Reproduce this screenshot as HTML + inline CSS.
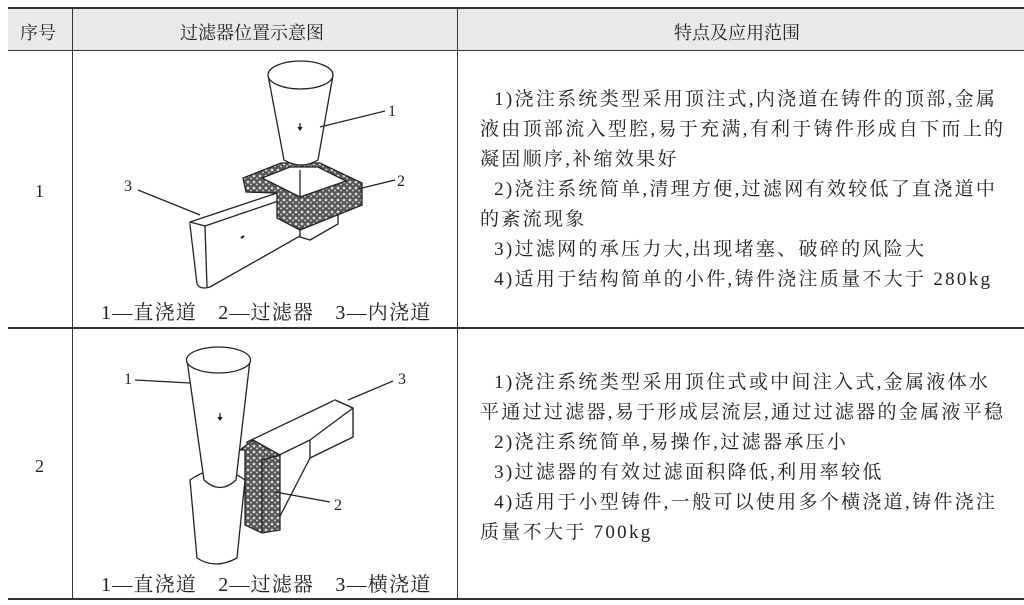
<!DOCTYPE html>
<html><head><meta charset="utf-8"><style>
body{margin:0;background:#fff;width:1024px;height:605px;overflow:hidden;font-family:"Liberation Serif","Noto Serif CJK SC",serif;color:#222}
.t{position:absolute;font-size:17px;white-space:nowrap}
.b{font-size:19px;letter-spacing:2.3px}
.c{font-size:20px;letter-spacing:1.2px}
.h{position:absolute;background:#e9e9e9}
.l{position:absolute;background:#333}
</style></head><body>
<div class="h" style="left:8px;top:8px;width:1016px;height:43px"></div>
<div class="l" style="left:8px;top:7px;width:1016px;height:2px"></div>
<div class="l" style="left:8px;top:50px;width:1016px;height:1px"></div>
<div class="l" style="left:8px;top:327px;width:1016px;height:1.5px"></div>
<div class="l" style="left:8px;top:598px;width:1016px;height:2px"></div>
<div class="l" style="left:72px;top:8px;width:1px;height:591px"></div>
<div class="l" style="left:457px;top:8px;width:1px;height:591px"></div>
<div class="t" style="left:20px;top:19px;font-size:18px">序号</div>
<div class="t" style="left:180px;top:19px;font-size:18px">过滤器位置示意图</div>
<div class="t" style="left:674px;top:19px;font-size:18px">特点及应用范围</div>
<div class="t" style="left:35px;top:181px;font-size:18px">1</div>
<div class="t" style="left:35px;top:456px;font-size:18px">2</div>
<div class="t c" style="left:101px;top:296px">1—直浇道　2—过滤器　3—内浇道</div>
<div class="t c" style="left:101px;top:568px">1—直浇道　2—过滤器　3—横浇道</div>
<div class="t b" style="left:480px;top:85px;line-height:30px">
&nbsp;&nbsp;1)浇注系统类型采用顶注式,内浇道在铸件的顶部,金属<br>液由顶部流入型腔,易于充满,有利于铸件形成自下而上的<br>凝固顺序,补缩效果好<br>&nbsp;&nbsp;2)浇注系统简单,清理方便,过滤网有效较低了直浇道中<br>的紊流现象<br>&nbsp;&nbsp;3)过滤网的承压力大,出现堵塞、破碎的风险大<br>&nbsp;&nbsp;4)适用于结构简单的小件,铸件浇注质量不大于 280kg</div>
<div class="t b" style="left:480px;top:368px;line-height:30px">
&nbsp;&nbsp;1)浇注系统类型采用顶住式或中间注入式,金属液体水<br>平通过过滤器,易于形成层流层,通过过滤器的金属液平稳<br>&nbsp;&nbsp;2)浇注系统简单,易操作,过滤器承压小<br>&nbsp;&nbsp;3)过滤器的有效过滤面积降低,利用率较低<br>&nbsp;&nbsp;4)适用于小型铸件,一般可以使用多个横浇道,铸件浇注<br>质量不大于 700kg</div>
<svg width="1024" height="605" style="position:absolute;left:0;top:0" fill="#fff" stroke="#222" stroke-width="1.3">
<defs><pattern id="p" width="6" height="6" patternUnits="userSpaceOnUse"><rect width="6" height="6" fill="#555" stroke="none"/><circle cx="2" cy="2" r="1.4" fill="#ddd" stroke="none"/><circle cx="5" cy="4.5" r="1" fill="#ccc" stroke="none"/></pattern></defs>
<!-- row1 -->
<path d="M190 222 L277 193 L300 205 L300 236 L210 287 Q200 290 197 284 L190 225 Z"/>
<path d="M190 222 L205 226 L207 287"/>
<path d="M205 226 L290 197"/>
<polygon points="300,237 300,218 338,208 338,224 310,240"/>
<polygon points="243,178 281,163 320,163 362,183 362,205 300,230 277,218 277,193 246,192" fill="url(#p)"/>
<polygon points="262,178 290,167 318,167 346,181 300,197" fill="#fff"/>
<path d="M300 197 V170"/>
<path d="M268 75 L284 160 Q301 170 318 160 L333 75" />
<ellipse cx="300.5" cy="75" rx="32.5" ry="14"/>
<path d="M300 123 v6" /><path d="M298 127 l2 3 l2 -3" fill="#222"/>
<path d="M320 127 L385 111" fill="none"/><text x="388" y="116" fill="#222" stroke="none" font-size="16">1</text>
<path d="M358 189 L395 180" fill="none"/><text x="397" y="186" fill="#222" stroke="none" font-size="16">2</text>
<path d="M200 215 L138 190" fill="none"/><text x="124" y="191" fill="#222" stroke="none" font-size="16">3</text>
<path d="M244 236 l-3 2" stroke-width="2"/>
<!-- row2 -->
<path d="M247 442 L335 400 L353 408 L353 437 L310 458 L278 520 L260 525 Z"/>
<path d="M335 400 L353 408 L353 437 L310 458 L310 440 L273 458"/>
<path d="M310 440 L353 408" fill="none"/>
<polygon points="240,450 253,440 280,455 280,530 262,533 245,525 245,450" fill="url(#p)"/>
<path d="M262 533 L262 460 L280 455" fill="none"/>
<path d="M190 480 Q218 460 245 480 L237 558 Q215 570 197 558 Z"/>
<path d="M187 360 L204 480 Q220 495 236 480 L250 360"/>
<ellipse cx="218.5" cy="360" rx="32" ry="13"/>
<path d="M220 413 v6"/><path d="M218 417 l2 3 l2 -3" fill="#222"/>
<path d="M190 383 L135 380" fill="none"/><text x="124" y="384" fill="#222" stroke="none" font-size="16">1</text>
<path d="M348 400 L393 381" fill="none"/><text x="398" y="384" fill="#222" stroke="none" font-size="16">3</text>
<path d="M275 492 L330 502" fill="none"/><text x="334" y="510" fill="#222" stroke="none" font-size="16">2</text>
</svg>
</body></html>
